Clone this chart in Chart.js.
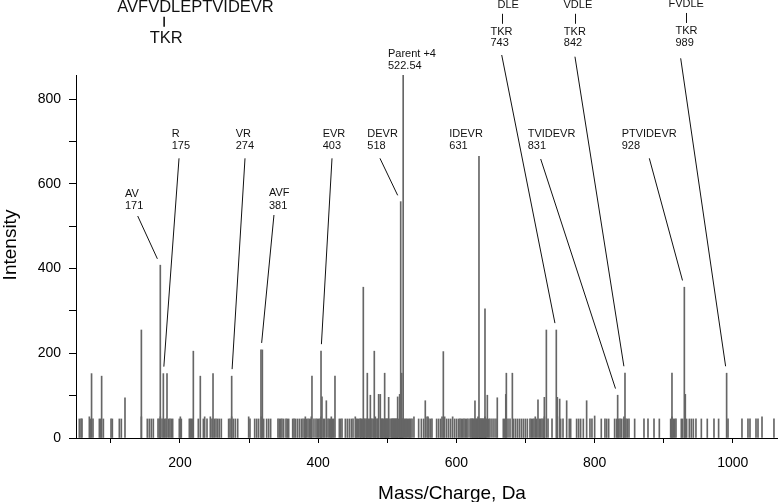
<!DOCTYPE html>
<html><head><meta charset="utf-8">
<script src="https://cdn.jsdelivr.net/npm/chart.js@4/dist/chart.umd.min.js"></script>
<style>html,body{margin:0;padding:0;background:#fff;}canvas{display:block;}</style>
</head><body>
<canvas id="c" width="778" height="502"></canvas>
<script>
// ---------- DATA ----------
// Prominent peaks (m/z, intensity)
const peakMz = [72.0, 86.6, 120.4, 144.1, 171.5, 175.9, 181.2, 219.3, 229.4, 247.8, 274.8, 317.2, 319.2, 391.0, 404.1, 405.5, 411.8, 424.3, 465.3, 471.1, 475.5, 481.2, 487.5, 489.9, 496.2, 502.0, 515.0, 517.9, 519.4, 520.9, 523.0, 555.0, 581.1, 626.9, 632.7, 641.4, 644.8, 659.2, 671.5, 672.3, 681.0, 718.1, 727.3, 730.2, 744.6, 746.1, 749.5, 759.6, 788.5, 833.4, 844.0, 912.0, 929.9, 931.3, 991.1];
const peakIntensity = [152, 146, 95, 255, 408, 152, 152, 205, 146, 152, 146, 208, 208, 146, 205, 97, 88, 146, 356, 153, 101, 205, 103, 103, 153, 96, 97, 103, 558, 153, 857, 88, 204, 88, 665, 305, 101, 95, 103, 153, 153, 90, 96, 255, 255, 96, 92, 88, 88, 101, 153, 153, 356, 103, 153];

// Low-level baseline peaks [m/z, intensity]
const baselinePeaks = [
 [54.3,45],[56.7,45],[58.2,45],[68.8,50],[70.2,45],[74.1,45],[83.3,45],[85.2,45],[89.1,45],[100.2,45],[102.1,45],[112.2,45],[115.1,45],[144.1,50],
 [152.7,45],[155.6,45],[158.5,45],[161.4,45],[168.2,45],[170.1,45],[171.5,50],[174.0,45],[177.8,45],[179.7,45],[183.6,45],[185.5,45],[187.5,45],[189.4,45],
 [199.0,45],[200.5,50],[201.9,45],[213.5,45],[215.0,45],[216.4,45],[218.3,45],[226.5,45],[233.8,45],[235.7,50],[239.1,45],[243.9,50],[246.3,45],
 [249.7,45],[252.1,45],[254.5,45],[256.9,45],[259.8,45],[270.4,45],[272.4,45],[274.8,50],[277.2,45],[280.1,45],[283.5,45],[299.4,50],[301.3,45],
 [308.1,45],[311.0,45],[313.8,45],[317.7,50],[321.1,45],[325.4,45],[328.3,45],[331.2,45],[341.8,45],[343.8,45],[345.7,45],[347.6,45],[350.0,45],
 [353.4,45],[355.3,45],[357.3,45],[363.1,45],[365.0,45],[366.9,45],[369.8,45],[372.7,45],[375.6,45],[378.0,45],[380.4,45],[381.4,50],[382.8,45],
 [385.2,45],[387.2,45],[389.1,45],[390.0,50],[393.9,45],[396.8,45],[398.8,45],[400.7,45],[402.6,45],[404.1,50],[407.4,45],[409.4,45],[414.2,45],
 [416.1,45],[418.1,45],[419.0,50],[420.5,45],[422.4,45],[430.6,45],[432.5,45],[434.5,45],[439.3,45],[442.2,45],[445.1,45],[448.0,45],[450.4,45],
 [453.7,50],[455.2,45],[456.6,45],[458.6,45],[460.5,45],[461.5,45],[462.4,45],[464.4,45],[466.3,45],[467.3,45],[469.2,45],[470.2,45],[473.0,45],
 [474.1,45],[476.5,45],[477.9,45],[479.8,45],[482.7,50],[483.7,45],[485.6,45],[486.6,45],[491.2,45],[492.3,45],[493.3,45],[494.6,45],[497.1,45],
 [498.1,45],[499.1,45],[500.1,45],[501.1,45],[503.9,45],[505.8,45],[506.8,45],[507.8,45],[508.7,45],[509.7,45],[510.7,45],[511.6,45],[512.6,45],
 [513.6,45],[514.5,45],[516.5,45],[518.5,45],[519.4,50],[521.3,45],[522.4,45],[524.5,45],[526.1,45],[527.5,45],[529.0,45],[530.9,45],[532.3,45],
 [533.8,45],[535.8,45],[538.6,50],[545.4,45],[549.3,45],[552.6,45],[557.5,50],[559.0,50],[560.3,45],[562.8,45],[564.7,45],[571.4,45],[574.3,45],
 [577.2,45],[579.2,50],[583.0,50],[585.9,45],[588.8,45],[591.7,45],[594.6,50],[597.5,45],[600.4,45],[603.3,45],[605.2,45],[607.1,45],[609.1,45],
 [611.0,45],[612.9,45],[614.9,45],[616.8,45],[619.7,45],[621.2,45],[622.6,45],[623.6,45],[624.5,45],[626.0,45],[628.1,45],[629.3,45],[630.2,45],
 [631.3,50],[633.4,45],[634.2,45],[635.2,45],[636.1,45],[637.1,45],[638.0,45],[639.0,45],[640.0,45],[641.4,50],[642.3,45],[643.3,45],[646.7,45],
 [648.6,45],[651.5,45],[654.4,45],[657.3,45],[667.9,45],[669.9,45],[674.7,45],[677.6,45],[682.4,45],[685.3,45],[688.2,45],[691.1,45],[694.0,45],
 [696.9,45],[699.8,45],[702.7,45],[706.5,45],[708.4,45],[710.4,45],[712.3,45],[714.2,50],[716.2,45],[720.0,45],[722.0,45],[723.9,45],[725.8,45],
 [727.3,50],[732.6,45],[738.4,45],[746.1,50],[750.9,45],[754.3,45],[763.4,45],[765.4,45],[774.0,45],[776.9,45],[779.8,45],[783.7,45],[793.3,45],
 [796.2,45],[800.1,52],[809.7,45],[815.0,45],[817.5,45],[820.4,45],[829.0,45],[831.9,45],[834.8,45],[836.8,45],[838.7,45],[841.6,45],[842.5,50],
 [845.4,45],[847.4,45],[849.8,45],[858.0,45],[871.5,45],[877.3,45],[886.0,45],[893.7,45],[910.1,45],[912.0,50],[913.9,45],[915.9,45],[917.8,45],
 [925.5,45],[927.4,45],[933.2,45],[937.1,45],[940.0,45],[942.9,45],[946.7,45],[954.5,45],[963.1,45],[972.8,45],[979.5,45],[993.1,45],[1013.3,45],
 [1022.0,45],[1024.9,45],[1033.6,45],[1036.5,45],[1042.3,50],[1059.6,45]
];

// Tick labels
const xTickLabels = [200, 400, 600, 800, 1000];
const yTickLabels = [0, 200, 400, 600, 800];

// Fragment annotations
const fragmentText = [['AV','171'],['R','175'],['VR','274'],['AVF','381'],['EVR','403'],['DEVR','518'],['Parent +4','522.54'],['IDEVR','631'],['TVIDEVR','831'],['PTVIDEVR','928']];
const fragmentPeakMz = [171.5, 175.9, 274.8, 317.2, 404.1, 519.4, null, null, 833.4, 929.9];
// placement of labels in data units (m/z, intensity)
const fragmentTextMz  = [120.4, 188.0, 280.6, 328.8, 406.5, 471.1, 501.0, 589.7, 703.2, 839.2];
const fragmentTextInt = [569.0, 711.8, 711.8, 570.2, 711.8, 711.8, 900.2, 711.8, 711.3, 711.3];
const fragmentLeadMz  = [138.8, 198.6, 294.1, 336.0, 420.0, 489.4, null, null, 722.0, 879.2];
const fragmentLeadInt = [524.1, 660.3, 660.3, 526.5, 660.3, 660.3, null, null, 658.7, 660.3];

// Cross-linked fragment annotations
const crossTop = ['DLE', 'VDLE', 'FVDLE'];
const crossMass = ['743', '842', '989'];
const crossPeakMz = [744.6, 844.0, 991.1];
const crossAnchorMz = [665.3, 771.4, 933.0];
const crossAnchorInt = [1014.5, 1014.5, 1016.4];
const crossLeadMz = [665.6, 771.6, 924.6];
const crossLeadInt = [904.2, 900.2, 896.4];

const peptide = 'AVFVDLEPTVIDEVR';
const peptideLink = 'TKR';

// ---------- CHART ----------
const FONT = '"Liberation Sans", Arial, Helvetica, sans-serif';
Chart.defaults.font.family = FONT;
Chart.defaults.color = '#000';

const peakColor = '#666';

const annotate = {
  id: 'annotate',
  afterDraw(chart) {
    const {ctx, scales: {x, y}} = chart;
    ctx.save();
    ctx.fillStyle = '#111';
    ctx.strokeStyle = '#111';
    ctx.lineWidth = 1;
    ctx.textBaseline = 'alphabetic';

    const peakTop = (mz) => {
      const i = peakMz.indexOf(mz);
      return [x.getPixelForValue(mz), y.getPixelForValue(peakIntensity[i])];
    };
    const leader = (sx, sy, mz) => {
      const [ex, ey] = peakTop(mz);
      const dx = ex - sx, dy = ey - sy, len = Math.hypot(dx, dy);
      const gap = 7;
      ctx.beginPath();
      ctx.moveTo(sx, sy);
      ctx.lineTo(ex - dx / len * gap, ey - dy / len * gap);
      ctx.stroke();
    };

    // fragment labels
    ctx.font = '11px ' + FONT;
    ctx.textAlign = 'left';
    for (let i = 0; i < fragmentText.length; i++) {
      const tx = x.getPixelForValue(fragmentTextMz[i]);
      const ty = y.getPixelForValue(fragmentTextInt[i]);
      fragmentText[i].forEach((t, j) => ctx.fillText(t, tx, ty + j * 12.4));
      if (fragmentPeakMz[i] !== null) {
        leader(x.getPixelForValue(fragmentLeadMz[i]), y.getPixelForValue(fragmentLeadInt[i]), fragmentPeakMz[i]);
      }
    }

    // cross-link labels
    for (let i = 0; i < crossTop.length; i++) {
      const cx = x.getPixelForValue(crossAnchorMz[i]);
      const by = y.getPixelForValue(crossAnchorInt[i]);
      const top = crossTop[i];
      const di = top.indexOf('D');
      const pre = ctx.measureText(top.slice(0, di)).width;
      const dw = ctx.measureText('D').width;
      ctx.textAlign = 'left';
      ctx.fillText(top, cx - pre - dw / 2, by);
      ctx.beginPath();
      ctx.moveTo(Math.round(cx) + 0.5, by + 5.5);
      ctx.lineTo(Math.round(cx) + 0.5, by + 15.5);
      ctx.stroke();
      const tw = ctx.measureText('TKR').width;
      ctx.fillText('TKR', cx - tw / 2, by + 26.5);
      ctx.fillText(crossMass[i], cx - tw / 2, by + 38.2);
      leader(x.getPixelForValue(crossLeadMz[i]), y.getPixelForValue(crossLeadInt[i]), crossPeakMz[i]);
    }

    // peptide heading
    ctx.font = '16.5px ' + FONT;
    ctx.textAlign = 'left';
    const px0 = 117.3, pb = 12.2;
    ctx.fillText(peptide, px0, pb);
    const di = peptide.indexOf('D');
    const dcx = px0 + ctx.measureText(peptide.slice(0, di)).width + ctx.measureText('D').width / 2 - 1;
    ctx.beginPath();
    ctx.lineWidth = 1.6;
    ctx.moveTo(dcx, pb + 4.5);
    ctx.lineTo(dcx, pb + 14.5);
    ctx.stroke();
    ctx.textAlign = 'center';
    ctx.fillText(peptideLink, dcx + 2, pb + 31.2);

    // axis titles
    ctx.fillStyle = '#000';
    ctx.font = '19px ' + FONT;
    ctx.textAlign = 'center';
    ctx.fillText('Mass/Charge, Da', 452, 498.5);
    ctx.save();
    ctx.translate(16, 245);
    ctx.rotate(-Math.PI / 2);
    ctx.fillText('Intensity', 0, 0);
    ctx.restore();

    ctx.restore();
  }
};

new Chart(document.getElementById('c'), {
  type: 'bar',
  data: {
    datasets: [
      {
        label: 'baseline',
        data: baselinePeaks.map(p => ({x: p[0], y: p[1]})),
        backgroundColor: peakColor,
        borderWidth: 0,
        barThickness: 1,
        grouped: false
      },
      {
        label: 'peaks',
        data: peakMz.map((m, i) => ({x: m, y: peakIntensity[i]})),
        backgroundColor: peakColor,
        borderWidth: 0,
        barThickness: 1,
        grouped: false
      }
    ]
  },
  options: {
    responsive: false,
    animation: false,
    devicePixelRatio: 1,
    layout: {padding: {top: 75, right: 1, left: 0, bottom: 0}},
    plugins: {legend: {display: false}, tooltip: {enabled: false}},
    scales: {
      x: {
        type: 'linear', min: 49.5, max: 1064, offset: false,
        grid: {display: true, drawOnChartArea: false, drawTicks: true, tickLength: 5, color: '#000', offset: false},
        border: {display: true, color: '#000', width: 1},
        ticks: {
          stepSize: 100, includeBounds: false, autoSkip: false, maxRotation: 0, minRotation: 0,
          padding: 12, color: '#000', font: {size: 14},
          callback: v => xTickLabels.includes(v) ? String(v) : ''
        },
        afterFit: s => { s.height = 64; }
      },
      y: {
        type: 'linear', min: 0, max: 857,
        grid: {display: true, drawOnChartArea: false, drawTicks: true, tickLength: 7, color: '#000'},
        border: {display: true, color: '#000', width: 1},
        ticks: {
          stepSize: 100, includeBounds: false, autoSkip: false,
          padding: 8, color: '#000', font: {size: 14},
          callback: v => yTickLabels.includes(v) ? String(v) : ''
        },
        afterFit: s => { s.width = 76; }
      }
    }
  },
  plugins: [annotate]
});
</script>
</body></html>
